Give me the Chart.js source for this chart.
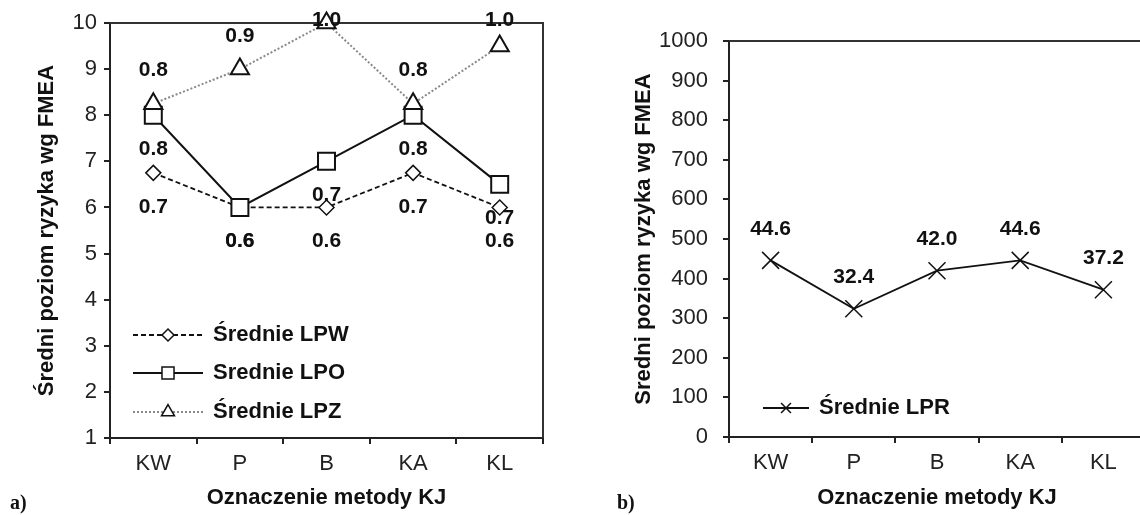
<!DOCTYPE html>
<html>
<head>
<meta charset="utf-8">
<script src="https://cdn.jsdelivr.net/npm/chart.js@4.4.1/dist/chart.umd.min.js"></script>
<style>
    html, body { margin: 0; padding: 0; background: #fff; width: 1140px; height: 515px; overflow: hidden; }
    .box { position: absolute; top: 0; width: 560px; height: 515px; }
    #boxA { left: 0; }
    #boxB { left: 600px; }
    .tag { position: absolute; top: 491px; font: bold 20px "Liberation Serif", serif; color: #111; }
</style>
</head>
<body>
<div class="box" id="boxA"><canvas id="chartA" width="560" height="515"></canvas></div>
<div class="box" id="boxB"><canvas id="chartB" width="560" height="515"></canvas></div>
<div class="tag" style="left:10px">a)</div>
<div class="tag" style="left:617px">b)</div>
<script>
    // values
    var methods = ['KW', 'P', 'B', 'KA', 'KL'];

    var lpwValues = [6.75, 6.0, 6.0, 6.75, 6.0];
    var lpwLabels = ['0.7', '0.6', '0.6', '0.7', '0.6'];
    var lpoValues = [8.0, 6.0, 7.0, 8.0, 6.5];
    var lpoLabels = ['0.8', '0.6', '0.7', '0.8', '0.7'];
    var lpzValues = [8.25, 9.0, 10.0, 8.25, 9.5];
    var lpzLabels = ['0.8', '0.9', '1.0', '0.8', '1.0'];

    var lprValues = [446, 324, 420, 446, 372];
    var lprLabels = ['44.6', '32.4', '42.0', '44.6', '37.2'];

    var FONT = '"Liberation Sans", Arial, sans-serif';

    // labels above / below the points, kept inside the canvas top
    var pointLabels = {
        id: 'pointLabels',
        afterDatasetsDraw: function(chart) {
            var ctx = chart.ctx;
            ctx.save();
            ctx.font = 'bold 21px ' + FONT;
            ctx.fillStyle = '#111';
            ctx.textAlign = 'center';
            ctx.textBaseline = 'middle';
            chart.data.datasets.forEach(function(ds, i) {
                if (!ds.pointText) return;
                chart.getDatasetMeta(i).data.forEach(function(pt, j) {
                    var y = Math.max(pt.y + ds.textOffset, 20);
                    ctx.fillText(ds.pointText[j], pt.x, y);
                });
            });
            ctx.restore();
        }
    };

    // box around the plot area (top and right edges)
    var frame = {
        id: 'frame',
        beforeDatasetsDraw: function(chart) {
            var a = chart.chartArea, ctx = chart.ctx;
            ctx.save();
            ctx.strokeStyle = '#333';
            ctx.lineWidth = 2;
            ctx.beginPath();
            ctx.moveTo(a.left, a.top);
            ctx.lineTo(a.right, a.top);
            ctx.lineTo(a.right, a.bottom);
            ctx.stroke();
            ctx.restore();
        }
    };

    // legend drawn inside the plot, line + marker + text
    var innerLegend = {
        id: 'innerLegend',
        afterDraw: function(chart, args, opts) {
            var ctx = chart.ctx;
            var a = chart.chartArea;
            chart.data.datasets.forEach(function(ds, i) {
                var y = a.top + opts.rows[i];
                var x0 = a.left + opts.x, x1 = x0 + opts.lineWidth;
                ctx.save();
                ctx.strokeStyle = ds.borderColor;
                ctx.lineWidth = ds.borderWidth;
                ctx.setLineDash(ds.borderDash || []);
                ctx.beginPath();
                ctx.moveTo(x0, y);
                ctx.lineTo(x1, y);
                ctx.stroke();
                ctx.setLineDash([]);
                ctx.fillStyle = '#fff';
                ctx.strokeStyle = '#111';
                ctx.lineWidth = 1.5;
                Chart.helpers.drawPoint(ctx, {
                    pointStyle: ds.pointStyle,
                    radius: ds.legendRadius,
                    borderWidth: 1.5,
                    rotation: 0
                }, (x0 + x1) / 2, y);
                ctx.font = 'bold 22px ' + FONT;
                ctx.fillStyle = '#111';
                ctx.textAlign = 'left';
                ctx.textBaseline = 'middle';
                ctx.fillText(ds.label, x1 + 10, y);
                ctx.restore();
            });
        }
    };

    var axisBase = function(yWidth, xHeight, yPad) {
        return {
            x: {
                offset: true,
                grid: { offset: true, drawOnChartArea: false, drawTicks: true, tickLength: 6, color: '#222', lineWidth: 2 },
                border: { display: true, color: '#222', width: 2 },
                ticks: { color: '#222', padding: 7, font: { family: FONT, size: 22 } },
                title: { display: true, text: 'Oznaczenie metody KJ', color: '#111', padding: { top: 5, bottom: 4 },
                         font: { family: FONT, size: 22, weight: 'bold' } },
                afterFit: function(scale) { scale.height = xHeight; }
            },
            y: {
                grid: { drawOnChartArea: false, drawTicks: true, tickLength: 6, color: '#222', lineWidth: 2 },
                border: { display: true, color: '#222', width: 2 },
                ticks: { color: '#222', padding: yPad, font: { family: FONT, size: 22 },
                         callback: function(v) { return String(v); } },
                title: { display: true, color: '#111', padding: { top: 4, bottom: 4 },
                         font: { family: FONT, size: 22, weight: 'bold' } },
                afterFit: function(scale) { scale.width = yWidth; }
            }
        };
    };

    var scalesA = axisBase(80, 77, 7);
    scalesA.y.min = 1;
    scalesA.y.max = 10;
    scalesA.y.ticks.stepSize = 1;
    scalesA.y.title.text = 'Średni poziom ryzyka wg FMEA';

    new Chart(document.getElementById('chartA'), {
        type: 'line',
        data: {
            labels: methods,
            datasets: [{
                label: 'Średnie LPW',
                data: lpwValues,
                pointText: lpwLabels,
                textOffset: 34,
                borderColor: '#111',
                borderWidth: 1.8,
                borderDash: [5, 3],
                pointStyle: 'rectRot',
                pointRadius: 7.5,
                legendRadius: 6,
                pointBackgroundColor: '#fff',
                pointBorderColor: '#111',
                pointBorderWidth: 1.5,
                order: 2,
                clip: false
            }, {
                label: 'Srednie LPO',
                data: lpoValues,
                pointText: lpoLabels,
                textOffset: 34,
                borderColor: '#111',
                borderWidth: 2,
                pointStyle: 'rect',
                pointRadius: 12,
                legendRadius: 8.5,
                pointBackgroundColor: '#fff',
                pointBorderColor: '#111',
                pointBorderWidth: 2,
                order: 1,
                clip: false
            }, {
                label: 'Średnie LPZ',
                data: lpzValues,
                pointText: lpzLabels,
                textOffset: -33,
                borderColor: '#888',
                borderWidth: 2,
                borderDash: [2, 2],
                pointStyle: 'triangle',
                pointRadius: 10.5,
                legendRadius: 7.5,
                pointBackgroundColor: '#fff',
                pointBorderColor: '#111',
                pointBorderWidth: 2,
                order: 0,
                clip: false
            }]
        },
        options: {
            responsive: false,
            animation: false,
            events: [],
            devicePixelRatio: 1,
            layout: { padding: { left: 30, top: 23, right: 17, bottom: 0 } },
            elements: { line: { tension: 0 } },
            scales: scalesA,
            plugins: {
                legend: { display: false },
                tooltip: { enabled: false },
                innerLegend: { x: 23, lineWidth: 70, rows: [312, 350, 389] }
            }
        },
        plugins: [frame, pointLabels, innerLegend]
    });

    var scalesB = axisBase(102, 78, 15);
    scalesB.y.min = 0;
    scalesB.y.max = 1000;
    scalesB.y.ticks.stepSize = 100;
    scalesB.y.title.text = 'Sredni poziom ryzyka wg FMEA';

    new Chart(document.getElementById('chartB'), {
        type: 'line',
        data: {
            labels: methods,
            datasets: [{
                label: 'Średnie LPR',
                data: lprValues,
                pointText: lprLabels,
                textOffset: -31,
                borderColor: '#111',
                borderWidth: 1.8,
                pointStyle: 'crossRot',
                pointRadius: 12,
                legendRadius: 7,
                pointBorderColor: '#111',
                pointBorderWidth: 1.5,
                clip: false
            }]
        },
        options: {
            responsive: false,
            animation: false,
            events: [],
            devicePixelRatio: 1,
            layout: { padding: { left: 27, top: 41, right: 15, bottom: 0 } },
            elements: { line: { tension: 0 } },
            scales: scalesB,
            plugins: {
                legend: { display: false },
                tooltip: { enabled: false },
                innerLegend: { x: 34, lineWidth: 46, rows: [367] }
            }
        },
        plugins: [frame, pointLabels, innerLegend]
    });
</script>
</body>
</html>
